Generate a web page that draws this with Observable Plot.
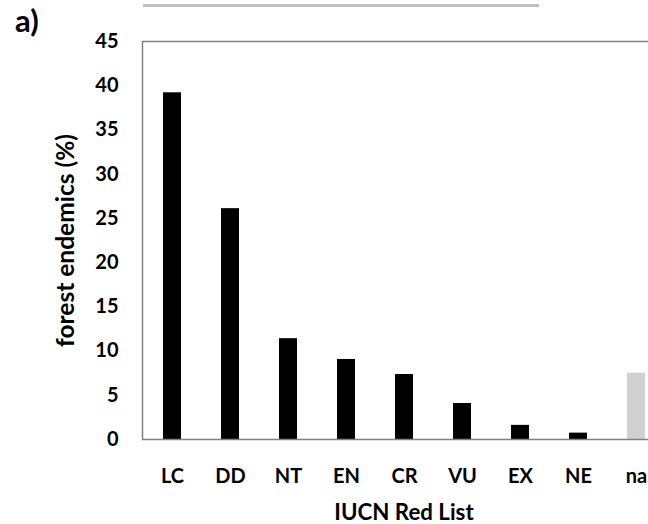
<!DOCTYPE html>
<html>
<head>
<meta charset="utf-8">
<script src="https://cdn.jsdelivr.net/npm/d3@7"></script>
<script src="https://cdn.jsdelivr.net/npm/@observablehq/plot@0.6"></script>
<style>
  html, body { margin: 0; padding: 0; background: white; overflow: hidden; }
  #wrap { position: relative; width: 648px; height: 524px; overflow: hidden; }
  #panel { position: absolute; left: 15px; top: 5px; font: bold 31px Lato, sans-serif; line-height: 1; color: #000; }
  #topline { position: absolute; left: 143px; top: 4px; width: 396px; height: 3px; background: #c0c0c0; }
</style>
</head>
<body>
<div id="wrap">
  <div id="topline"></div>
  <div id="panel">a)</div>
  <div id="chart"></div>
</div>
<script>
const categories = ["LC", "DD", "NT", "EN", "CR", "VU", "EX", "NE", "na"];
const values = [39.2, 26.1, 11.4, 9.05, 7.35, 4.07, 1.6, 0.72, 7.5];
const colors = ["#000", "#000", "#000", "#000", "#000", "#000", "#000", "#000", "#d0d0d0"];
const yTicks = [0, 5, 10, 15, 20, 25, 30, 35, 40, 45];
const yLabel = "forest endemics (%)";
const xLabel = "IUCN Red List";

const data = categories.map((c, i) => ({cat: c, value: values[i], color: colors[i]}));

const chart = Plot.plot({
  width: 648,
  height: 524,
  marginTop: 41,
  marginBottom: 85,
  marginLeft: 142,
  marginRight: 0,
  style: {fontFamily: "Lato, sans-serif", fontWeight: "bold", fontSize: "20px", color: "#000", background: "white", maxWidth: "none"},
  x: {domain: categories, range: [142, 665], paddingInner: 0.69, paddingOuter: 0.345},
  y: {domain: [0, 45]},
  marks: [
    Plot.barY(data, {x: "cat", y: "value", fill: "color"}),
    Plot.frame({stroke: "#808080", strokeWidth: 1.5, insetRight: -20}),
    Plot.axisY({ticks: yTicks, tickSize: 0, tickPadding: 24, label: null, fontSize: 20}),
    Plot.axisY({ticks: [], tickSize: 0, label: yLabel, labelAnchor: "center", labelOffset: 86, labelArrow: "none", fontSize: 24.5}),
    Plot.axisX({tickSize: 0, tickPadding: 29, label: null, fontSize: 20}),
    Plot.text([xLabel], {text: d => d, frameAnchor: "bottom", lineAnchor: "middle", dx: 8.5, dy: 73, fontSize: 22.3, fontWeight: "bold", fill: "#000"})
  ]
});
document.getElementById("chart").appendChild(chart);
</script>
</body>
</html>
